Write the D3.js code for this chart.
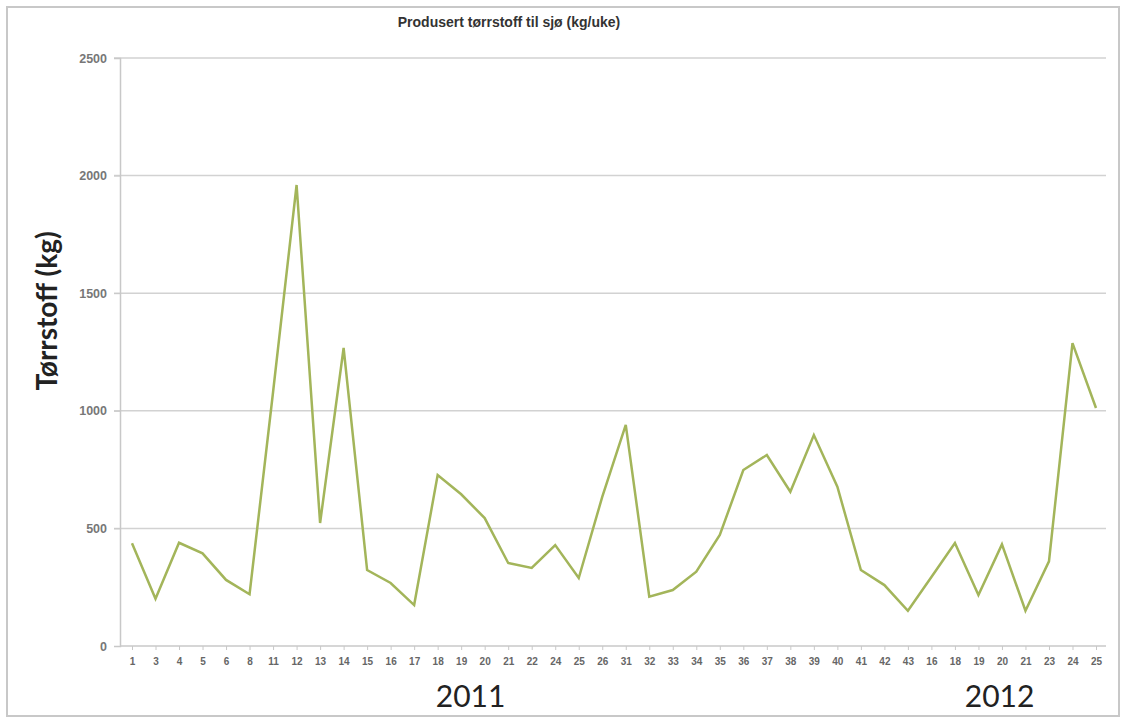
<!DOCTYPE html>
<html><head><meta charset="utf-8">
<script src="https://cdn.jsdelivr.net/npm/d3@7"></script>
<style>body{margin:0;background:#fff;}svg{display:block;}</style>
</head><body>
<script>
const weekLabels = ["1","3","4","5","6","8","11","12","13","14","15","16","17","18","19","20","21","22","24","25","26","31","32","33","34","35","36","37","38","39","40","41","42","43","16","18","19","20","21","23","24","25"];
const values = [437,201,439,394,281,220,1080,1960,523,1267,323,268,174,727,645,544,353,332,429,289,634,940,210,238,316,472,748,812,656,897,677,323,259,150,293,438,217,432,150,360,1288,1012];
const yTicks = [0,500,1000,1500,2000,2500];
const yearLabels = ["2011","2012"];
const yearPos = [14.4, 36.9]; // position along the category index axis

const W = 1126, H = 721;
const svg = d3.select("body").append("svg").attr("width", W).attr("height", H);
svg.append("rect").attr("x",7).attr("y",7).attr("width",1112).attr("height",709)
  .attr("fill","#fff").attr("stroke","#c8c8c8").attr("stroke-width",2);

const idx = values.map((d,i)=>i);
const x = d3.scalePoint().domain(idx).range([132,1096]);
const xc = d3.scaleLinear().domain([0, values.length-1]).range([132,1096]);
const y = d3.scaleLinear().domain([0,2500]).range([646,58]);

// gridlines
svg.append("g").selectAll("line").data(yTicks.slice(1)).join("line")
  .attr("x1",114).attr("x2",1106).attr("y1",d=>y(d)).attr("y2",d=>y(d))
  .attr("stroke","#d2d2d2").attr("stroke-width",1.5);

// y axis
const ya = svg.append("g").attr("transform","translate(120,0)")
  .call(d3.axisLeft(y).tickValues(yTicks).tickFormat(d3.format("d")).tickSize(6).tickPadding(7));
ya.select(".domain").attr("stroke","#c8c8c8").attr("stroke-width",1.5);
ya.selectAll(".tick line").attr("stroke","#c8c8c8");
ya.selectAll("text").attr("font-family","Arial, Liberation Sans, sans-serif")
  .attr("font-size",12.5).attr("font-weight","bold").attr("fill","#777");

// x axis
const xa = svg.append("g").attr("transform","translate(0,646)")
  .call(d3.axisBottom(x).tickFormat(i=>weekLabels[i]).tickSize(4).tickPadding(8));
xa.select(".domain").attr("stroke","#c8c8c8").attr("stroke-width",1.5)
  .attr("d","M120,0H1106");
xa.selectAll(".tick line").attr("stroke","#c8c8c8");
xa.selectAll("text").attr("font-family","Arial, Liberation Sans, sans-serif")
  .attr("font-size",10).attr("font-weight","bold").attr("fill","#666");

// line
const line = d3.line().x((d,i)=>x(i)).y(d=>y(d));
svg.append("path").datum(values).attr("d",line)
  .attr("fill","none").attr("stroke","#a3b55a").attr("stroke-width",2.5)
  .attr("stroke-linejoin","miter");

// title
svg.append("text").attr("x",509).attr("y",27).attr("text-anchor","middle")
  .attr("font-family","Arial, Liberation Sans, sans-serif").attr("font-size",14)
  .attr("font-weight","bold").attr("fill","#333")
  .text("Produsert tørrstoff til sjø (kg/uke)");

// y title
svg.append("text").attr("transform","translate(57,311) rotate(-90)")
  .attr("text-anchor","middle")
  .attr("font-family","Lato, Open Sans, sans-serif").attr("font-size",28)
  .attr("font-weight","bold").attr("fill","#222")
  .text("Tørrstoff (kg)");

// year labels
svg.append("g").selectAll("text").data(yearLabels).join("text")
  .attr("x",(d,i)=>xc(yearPos[i]))
  .attr("y",707).attr("text-anchor","middle")
  .attr("font-family","Lato, Open Sans, sans-serif").attr("font-size",30)
  .attr("fill","#222").text(d=>d);
</script>
</body></html>
